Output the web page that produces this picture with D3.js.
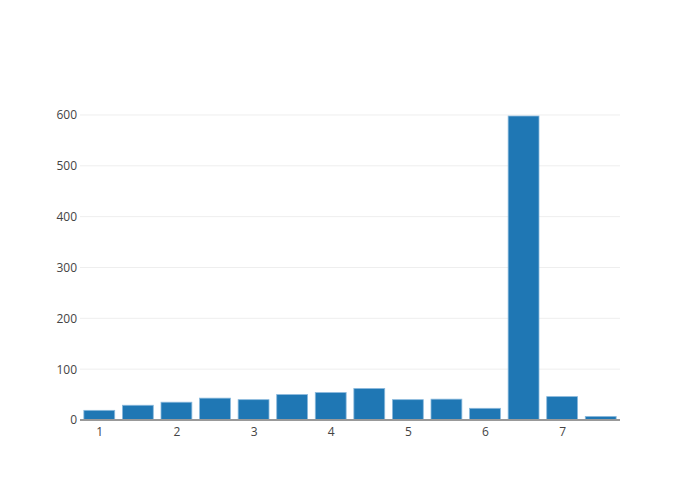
<!DOCTYPE html>
<html><head><meta charset="utf-8">
<script src="https://cdn.jsdelivr.net/npm/d3@7"></script>
<style>body{margin:0;background:#fff}</style>
</head><body>
<svg id="c" width="700" height="500"></svg>
<script>
const xs = [1, 1.5, 2, 2.5, 3, 3.5, 4, 4.5, 5, 5.5, 6, 6.5, 7, 7.5];
const ys = [19, 29, 35, 43, 40, 50, 54, 62, 40, 41, 23, 598, 46, 7];
const xTicks = [1, 2, 3, 4, 5, 6, 7];
const yTicks = [0, 100, 200, 300, 400, 500, 600];

const svg = d3.select("#c");
const m = {l: 80, r: 80, t: 100, b: 80};
const W = 700, H = 500;
const x = d3.scaleLinear().domain([0.75, 7.75]).range([m.l, W - m.r]);
const y = d3.scaleLinear().domain([0, 629.5]).range([H - m.b, m.t]);
const font = "'Open Sans', sans-serif";

// grid
svg.append("g").selectAll("line").data(yTicks.filter(d => d > 0)).join("line")
  .attr("x1", m.l).attr("x2", W - m.r)
  .attr("y1", d => y(d)).attr("y2", d => y(d))
  .attr("stroke", "#eee").attr("stroke-width", 1);

// bars
const bw = x(1.4) - x(1);
svg.append("g").selectAll("rect").data(xs).join("rect")
  .attr("x", (d) => x(d) - bw / 2)
  .attr("width", bw)
  .attr("y", (d, i) => y(ys[i]))
  .attr("height", (d, i) => y(0) - y(ys[i]))
  .attr("fill", "#1f77b4")
  .attr("stroke", "#8ab9dc").attr("stroke-width", 0.8);

// zero line
svg.append("line").attr("x1", m.l).attr("x2", W - m.r)
  .attr("y1", y(0)).attr("y2", y(0))
  .attr("stroke", "#999").attr("stroke-width", 2);

// y axis labels
const ya = d3.axisLeft(y).tickValues(yTicks).tickSize(0).tickPadding(3).tickFormat(d3.format("d"));
const gy = svg.append("g").attr("transform", `translate(${m.l},0)`).call(ya);
gy.select(".domain").remove();
gy.selectAll("text").attr("font-family", font).attr("font-size", 12).attr("fill", "#444");

// x axis labels
const xa = d3.axisBottom(x).tickValues(xTicks).tickSize(0).tickPadding(7).tickFormat(d3.format("d"));
const gx = svg.append("g").attr("transform", `translate(0,${H - m.b})`).call(xa);
gx.select(".domain").remove();
gx.selectAll("text").attr("font-family", font).attr("font-size", 12).attr("fill", "#444");
</script>
</body></html>
